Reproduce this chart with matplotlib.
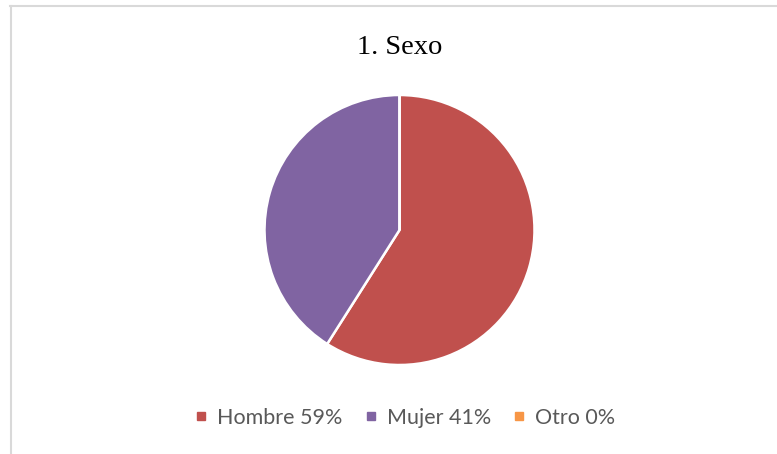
import matplotlib.pyplot as plt
from matplotlib.lines import Line2D

labels = ["Hombre", "Mujer", "Otro"]
values = [59, 41, 0]
colors = ["#c0504d", "#8064a2", "#f79646"]

W, H = 777, 454
fig = plt.figure(figsize=(W / 100, H / 100), dpi=100)

# light frame lines (top and left, as in the reference crop)
fig.add_artist(Line2D([10 / W, 1], [1 - 6 / H, 1 - 6 / H], color="#d9d9d9", lw=1.5))
fig.add_artist(Line2D([10.5 / W, 10.5 / W], [0, 1 - 6 / H], color="#d9d9d9", lw=1.5))

cx, cy, r = 399.5, 230, 135
ax = fig.add_axes([(cx - r) / W, (H - cy - r) / H, 2 * r / W, 2 * r / H])
ax.pie(values, colors=colors, startangle=90, counterclock=False,
       wedgeprops=dict(edgecolor="white", linewidth=1.8))
ax.set_xlim(-1, 1)
ax.set_ylim(-1, 1)
ax.set_aspect("equal")
ax.axis("off")

fig.text(cx / W, 1 - 47 / H, "1. Sexo", ha="center", va="center",
         fontsize=20.5, family="Liberation Serif", color="black")

handles = [Line2D([], [], marker="s", linestyle="none", markersize=6,
                  markerfacecolor=c, markeredgecolor=c) for c in colors]
leg_labels = [f"{l} {v}%" for l, v in zip(labels, values)]
fig.legend(handles, leg_labels, loc="center", bbox_to_anchor=(405 / W, 1 - 418 / H),
           ncol=3, frameon=False, handlelength=0.6, handletextpad=0.45,
           columnspacing=1.0, prop=dict(family="Lato", size=15.5),
           labelcolor="#595959")

fig.savefig("out.png", dpi=100)
